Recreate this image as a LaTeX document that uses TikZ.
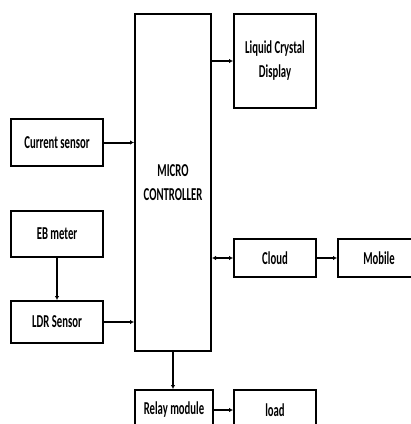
\documentclass[tikz,border=0pt]{standalone}
\usepackage{fontspec}
\setmainfont{Carlito}
\usetikzlibrary{arrows.meta,calc}

\newcommand{\tallt}[1]{\scalebox{1}[1.7]{#1}}

\tikzset{
  blockbox/.style={draw,line width=2pt,inner sep=0pt,align=center,
    font=\bfseries\fontsize{10.7}{24}\selectfont},
  flow/.style={line width=2pt,-{Latex[length=4pt,width=4.5pt]}},
}

\begin{document}
\begin{tikzpicture}[x=1pt,y=-1pt]
\useasboundingbox (0,0) rectangle (411,424);

% main controller
\node[blockbox,minimum width=76pt,minimum height=337pt] (MC) at (173,182.5) {\tallt{MICRO}\\\tallt{CONTROLLER}};

% inputs
\node[blockbox,minimum width=92pt,minimum height=47pt] (CS) at (57,142.5) {\tallt{Current sensor}};
\node[blockbox,minimum width=92pt,minimum height=46pt] (EB) at (57,234) {\tallt{EB meter}};
\node[blockbox,minimum width=92pt,minimum height=42pt] (LDR) at (57,322) {\tallt{LDR Sensor}};

% outputs
\node[blockbox,minimum width=82pt,minimum height=94pt] (LCD) at (275,61) {\tallt{Liquid Crystal}\\\tallt{Display}};
\node[blockbox,minimum width=82pt,minimum height=38pt] (CL) at (275,258) {\tallt{Cloud}};
\node[blockbox,minimum width=82pt,minimum height=38pt] (MOB) at (379,258) {\tallt{Mobile}};
\node[blockbox,minimum width=78pt,minimum height=40pt] (RM) at (174,410) {\tallt{Relay module}};
\node[blockbox,minimum width=82pt,minimum height=40pt] (LD) at (275,410) {\tallt{load}};

\draw[flow] (MC.east |- LCD.west) -- (LCD.west);
\draw[flow] (CS.east) -- (CS.east -| MC.west);
\draw[flow,line width=1.2pt] (EB.south) -- (LDR.north);
\draw[flow] (LDR.east) -- (LDR.east -| MC.west);
\draw[flow,{Latex[length=4pt,width=4.5pt]}-{Latex[length=4pt,width=4.5pt]}] (CL.west -| MC.east) -- (CL.west);
\draw[flow] (CL.east) -- (MOB.west);
\draw[flow] (MC.south -| 173,0) -- (RM.north -| 173,0);
\draw[flow] (RM.east) -- (LD.west);

\end{tikzpicture}
\end{document}
